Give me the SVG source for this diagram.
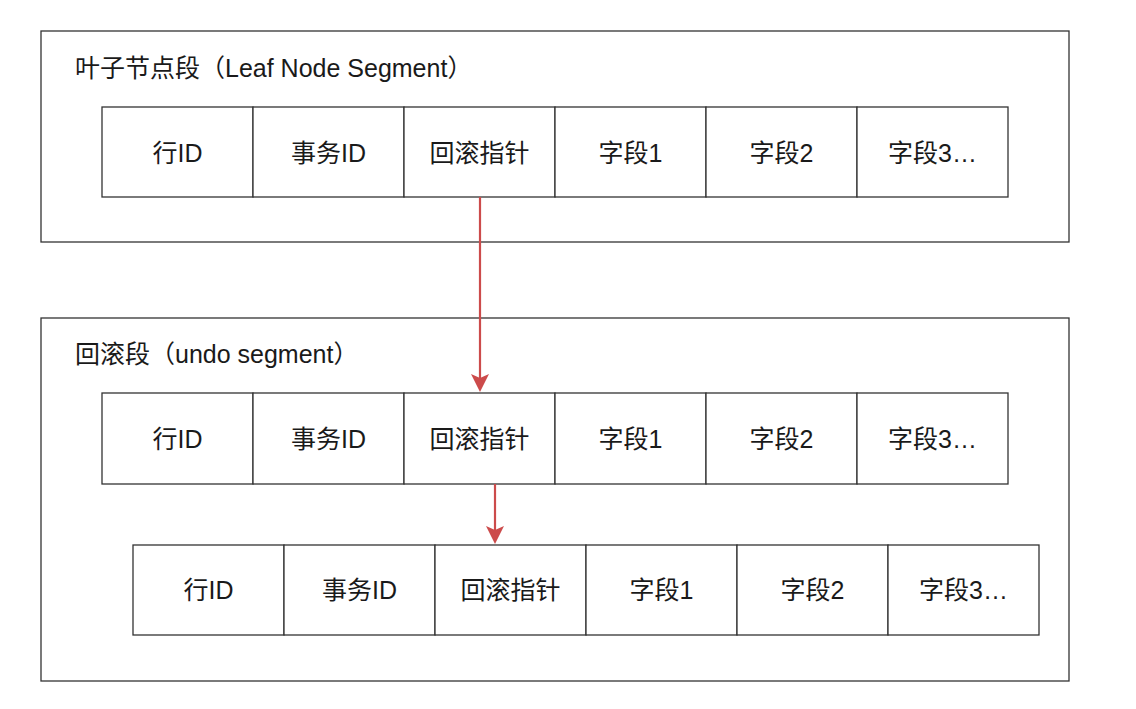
<svg xmlns="http://www.w3.org/2000/svg" width="1136" height="709" viewBox="0 0 1136 709">
<style>
.seg{fill:#fff;stroke:#333;stroke-width:1.3}
.cell{fill:#fff;stroke:#333;stroke-width:1.3}
.t{font-family:"Liberation Sans","Noto Sans CJK SC",sans-serif;font-size:25px;fill:#1a1a1a}
.c{text-anchor:middle}
.arr{stroke:#cc4b4b;stroke-width:2.2;fill:none}
</style>
<rect width="1136" height="709" fill="#fff"/>
<g id="leaf-segment">
<rect class="seg" x="41" y="31" width="1028" height="211"/>
<text class="t" x="75" y="77">叶子节点段（Leaf Node Segment）</text>
</g>
<g id="undo-segment">
<rect class="seg" x="41" y="318" width="1028" height="363"/>
<text class="t" x="75" y="363">回滚段（undo segment）</text>
</g>
<g id="row1">
<rect class="cell" x="102" y="107" width="151" height="90"/><text class="t c" x="177.5" y="162">行ID</text>
<rect class="cell" x="253" y="107" width="151" height="90"/><text class="t c" x="328.5" y="162">事务ID</text>
<rect class="cell" x="404" y="107" width="151" height="90"/><text class="t c" x="479.5" y="162">回滚指针</text>
<rect class="cell" x="555" y="107" width="151" height="90"/><text class="t c" x="630.5" y="162">字段1</text>
<rect class="cell" x="706" y="107" width="151" height="90"/><text class="t c" x="781.5" y="162">字段2</text>
<rect class="cell" x="857" y="107" width="151" height="90"/><text class="t c" x="932.5" y="162">字段3…</text>
</g>
<g id="row2">
<rect class="cell" x="102" y="393" width="151" height="91"/><text class="t c" x="177.5" y="448">行ID</text>
<rect class="cell" x="253" y="393" width="151" height="91"/><text class="t c" x="328.5" y="448">事务ID</text>
<rect class="cell" x="404" y="393" width="151" height="91"/><text class="t c" x="479.5" y="448">回滚指针</text>
<rect class="cell" x="555" y="393" width="151" height="91"/><text class="t c" x="630.5" y="448">字段1</text>
<rect class="cell" x="706" y="393" width="151" height="91"/><text class="t c" x="781.5" y="448">字段2</text>
<rect class="cell" x="857" y="393" width="151" height="91"/><text class="t c" x="932.5" y="448">字段3…</text>
</g>
<g id="row3">
<rect class="cell" x="133" y="545" width="151" height="90"/><text class="t c" x="208.5" y="599">行ID</text>
<rect class="cell" x="284" y="545" width="151" height="90"/><text class="t c" x="359.5" y="599">事务ID</text>
<rect class="cell" x="435" y="545" width="151" height="90"/><text class="t c" x="510.5" y="599">回滚指针</text>
<rect class="cell" x="586" y="545" width="151" height="90"/><text class="t c" x="661.5" y="599">字段1</text>
<rect class="cell" x="737" y="545" width="151" height="90"/><text class="t c" x="812.5" y="599">字段2</text>
<rect class="cell" x="888" y="545" width="151" height="90"/><text class="t c" x="963.5" y="599">字段3…</text>
</g>
<g id="connectors">
<line class="arr" x1="480" y1="197" x2="480" y2="380"/>
<path d="M471,374 L480,378 L489,374 L480,392 Z" fill="#cc4b4b"/>
<line class="arr" x1="495" y1="484" x2="495" y2="532"/>
<path d="M486,526 L495,530 L504,526 L495,544 Z" fill="#cc4b4b"/>
</g>
</svg>
